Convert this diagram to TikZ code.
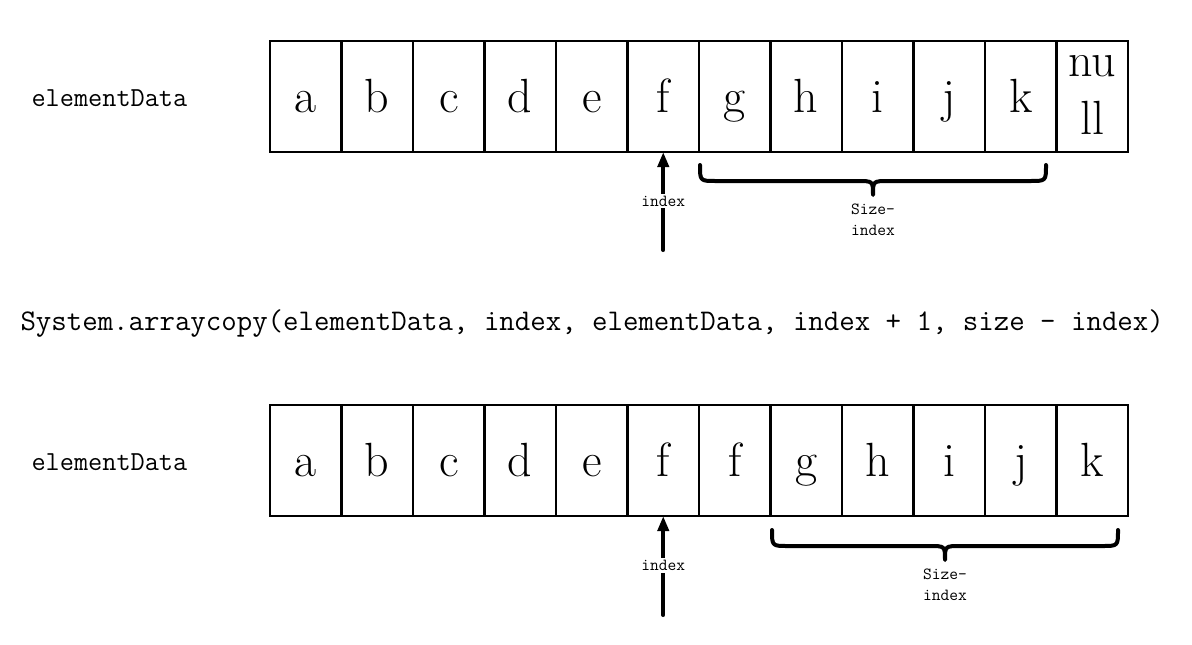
\documentclass[tikz,border=0pt]{standalone}
\usepackage{fontspec}
\usetikzlibrary{arrows.meta}
\begin{document}
\begin{tikzpicture}[x=1pt,y=-1pt,
  cellbox/.style={draw, line width=2.8pt, minimum width=71.5pt, minimum height=111pt,
    inner sep=0pt, outer sep=0pt, font=\fontsize{48}{58}\selectfont,
    text height=40pt, text depth=9pt},
  barebox/.style={draw, line width=2.8pt, minimum width=71.5pt, minimum height=111pt,
    inner sep=0pt, outer sep=0pt},
  namelabel/.style={anchor=base west, font=\ttfamily\fontsize{27.5}{32}\selectfont},
  codelabel/.style={anchor=base west, font=\ttfamily\fontsize{30}{36}\selectfont},
  idxarrow/.style={line width=4pt, line cap=round, -{Triangle[length=15pt,width=11pt]}},
  idxlabel/.style={fill=white, font=\ttfamily\fontsize{17}{20}\selectfont, inner sep=2pt},
  bracepath/.style={line width=4pt, line cap=round, line join=round},
  bracelabel/.style={align=center, font=\ttfamily\fontsize{17}{21}\selectfont, inner sep=0pt}
]
\useasboundingbox (0,0) rectangle (1192,645);

% top array
\node[namelabel] (name1) at (28,106) {elementData};
\foreach \t [count=\i] in {a,b,c,d,e,f,g,h,i,j,k}
  \node[cellbox] (t\i) at ({305.75+71.5*(\i-1)},96.5) {\t};
\node[barebox, label={[name=nulltxt, align=center, yshift=2pt, inner sep=0pt,
   font=\fontsize{48}{58}\selectfont]center:nu\\ll}] (t12) at ({305.75+71.5*11},96.5) {};

\coordinate (ta) at (663.25,250);
\draw[idxarrow] (ta) -- node[idxlabel] (ti) {index} (t6.south);

\draw[bracepath] (700,165) .. controls (700,181) .. (716,181) -- (857,181)
  .. controls (873,181) .. (873,195) .. controls (873,181) .. (889,181)
  -- (1030,181) .. controls (1046,181) .. (1046,165);
\node[bracelabel] (ts) at (873,220) {Size-\\index};

% code line
\node[codelabel] (code) at (17,330) {System.arraycopy(elementData, index, elementData, index + 1, size - index)};

% bottom array
\node[namelabel] (name2) at (28,470) {elementData};
\foreach \t [count=\i] in {a,b,c,d,e,f,f,g,h,i,j,k}
  \node[cellbox] (b\i) at ({305.75+71.5*(\i-1)},460.5) {\t};

\coordinate (ba) at (663.25,615);
\draw[idxarrow] (ba) -- node[idxlabel] (bi) {index} (b6.south);

\draw[bracepath] (772,530) .. controls (772,546) .. (788,546) -- (929,546)
  .. controls (945,546) .. (945,560) .. controls (945,546) .. (961,546)
  -- (1102,546) .. controls (1118,546) .. (1118,530);
\node[bracelabel] (bs) at (945,585) {Size-\\index};
\end{tikzpicture}
\end{document}
